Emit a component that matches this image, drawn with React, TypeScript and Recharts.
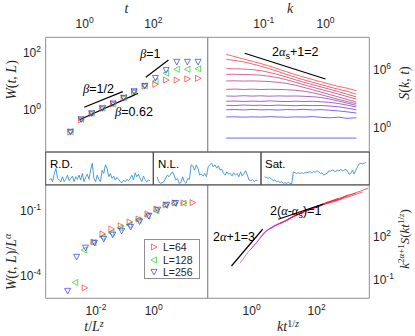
import React from 'react';
import {
  ScatterChart,
  Scatter,
  LineChart,
  Line,
  XAxis,
  YAxis,
  ReferenceLine,
  ReferenceArea,
  Legend,
} from 'recharts';

const W = 415;
const H = 336;
const SANS = '"Liberation Sans", Arial, Helvetica, sans-serif';
const SERIF = '"Liberation Serif", "Times New Roman", serif';
const INK = '#262626';
const FRAME = '#8f8f8f';
const STRIP_FRAME = '#4d4d4d';
const RED = '#ff2a2a';
const GREEN = '#1ec81e';
const BLUE = '#2a2aff';

// ---------- top left: W(t,L) vs t, all values as log10
const logT = [-0.41, -0.1, 0.21, 0.52, 0.83, 1.14, 1.44, 1.75, 2.06, 2.37, 2.68, 2.99, 3.3];
const logW64 = [-0.83, -0.4, -0.18, 0.0, 0.16, 0.37, 0.59, 0.79, 0.85, 1.0, 1.0, 1.04, 1.06];
const logW128 = [-0.82, -0.39, -0.17, 0.01, 0.16, 0.38, 0.59, 0.8, 0.96, 1.24, 1.38, 1.38, 1.4];
const logW256 = [-0.83, -0.39, -0.18, 0.0, 0.17, 0.37, 0.6, 0.79, 1.07, 1.35, 1.64, 1.64, 1.64];
const tlTicksX = [0, 2];
const tlTicksY = [0, 2];
// guide lines [x0, y0, x1, y1]
const betaHalf = [-0.01, 0.04, 1.11, 0.59];
const beta062 = [-0.13, -0.39, 1.55, 0.53];
const betaOne = [1.78, 1.1, 2.44, 1.71];

// ---------- top right: S(k,t) vs k, one curve per time
const logK = [-1.61, -1.47, -1.33, -1.19, -1.05, -0.91, -0.77, -0.63, -0.49, -0.35, -0.21, -0.07, 0.07, 0.21, 0.35, 0.5];
const sk01 = [7.45, 7.21, 6.97, 6.73, 6.49, 6.23, 5.94, 5.64, 5.35, 5.08, 4.83, 4.59, 4.35, 4.12, 3.93, 3.67];
const sk02 = [6.93, 6.81, 6.67, 6.46, 6.22, 5.96, 5.67, 5.36, 5.07, 4.8, 4.55, 4.3, 4.05, 3.82, 3.61, 3.31];
const sk03 = [5.96, 5.95, 5.92, 5.86, 5.75, 5.57, 5.34, 5.08, 4.81, 4.55, 4.3, 4.06, 3.82, 3.58, 3.3, 3.03];
const sk04 = [5.37, 5.38, 5.35, 5.33, 5.28, 5.18, 5.02, 4.8, 4.55, 4.29, 4.04, 3.8, 3.56, 3.32, 3.06, 2.8];
const sk05 = [4.68, 4.7, 4.67, 4.69, 4.66, 4.62, 4.55, 4.43, 4.24, 4.01, 3.77, 3.52, 3.27, 3.02, 2.76, 2.5];
const sk06 = [3.81, 3.84, 3.8, 3.83, 3.79, 3.82, 3.8, 3.77, 3.72, 3.62, 3.46, 3.25, 3.01, 2.77, 2.55, 2.32];
const sk07 = [3.12, 3.1, 3.15, 3.11, 3.14, 3.1, 3.13, 3.11, 3.12, 3.09, 3.05, 2.96, 2.8, 2.6, 2.38, 2.15];
const sk08 = [2.57, 2.6, 2.55, 2.59, 2.56, 2.61, 2.57, 2.54, 2.58, 2.55, 2.57, 2.52, 2.46, 2.34, 2.17, 1.98];
const sk09 = [2.15, 2.13, 2.18, 2.14, 2.16, 2.12, 2.17, 2.14, 2.11, 2.15, 2.12, 2.13, 2.08, 2.0, 1.86, 1.69];
const sk10 = [1.69, 1.71, 1.67, 1.72, 1.68, 1.7, 1.66, 1.71, 1.69, 1.73, 1.67, 1.7, 1.64, 1.57, 1.47, 1.35];
const sk11 = [0.94, 0.96, 0.92, 0.95, 0.93, 0.97, 0.94, 0.91, 0.95, 0.93, 0.98, 0.9, 0.85, 0.92, 0.8, 0.86];
const sk12 = [-1.25, -1.25, -1.25, -1.25, -1.25, -1.25, -1.25, -1.25, -1.25, -1.25, -1.25, -1.25, -1.25, -1.25, -1.25, -1.25];
const trCurves = [sk01, sk02, sk03, sk04, sk05, sk06, sk07, sk08, sk09, sk10, sk11, sk12];
const trColors = ['#ff0000', '#e80017', '#d1002e', '#ba0046', '#a3005d', '#8b0074', '#74008b', '#5d00a3', '#4600ba', '#2e00d1', '#1700e8', '#0000ff'];
const trTicksX = [-1, 0];
const trTicksY = [0, 6];
const slopeS = [-1.31, 7.56, 0.0, 4.89];

// ---------- middle strip: interface profiles (height in strip units 0..10)
const rdProfile = [1.5, 2.0, 1.0, 3.5, 5.0, 2.0, 1.5, 1.0, 2.5, 1.0, 1.7, 3.0, 1.3, 2.0, 2.7, 1.0, 2.5, 1.7, 3.0, 1.5, 3.5, 1.0, 2.3, 3.3, 1.7, 4.5, 6.6, 2.0, 1.0, 3.0, 1.7, 1.0, 4.5, 3.5, 6.1, 5.0, 2.5, 3.5, 2.0, 2.7, 1.5, 2.3, 1.7, 1.0, 0.7, 1.5, 1.0, 1.7, 1.3, 2.0, 3.0, 1.5, 3.7, 2.5, 3.3, 2.0, 1.0, 2.7, 1.7, 1.0, 1.5, 1.3];
const nlProfile = [2.5, 1.0, 0.5, 0.7, 1.0, 2.0, 3.0, 2.5, 3.3, 4.0, 3.0, 1.5, 2.0, 0.5, 0.7, 2.5, 1.0, 0.5, 2.0, 1.7, 6.1, 5.8, 4.5, 6.1, 5.1, 3.0, 3.3, 2.7, 3.5, 2.5, 5.5, 6.1, 6.6, 5.5, 6.1, 5.1, 5.8, 4.5, 4.8, 3.5, 3.0, 4.0, 3.3, 3.5, 2.7, 3.7, 3.0, 3.5, 2.5, 4.0, 2.7, 3.5, 4.3, 3.0, 1.5, 1.3, 1.7, 1.0, 1.5, 1.3];
const satProfile = [2.5, 2.3, 2.0, 2.3, 1.7, 1.3, 1.5, 1.0, 1.2, 0.8, 1.0, 0.5, 0.7, 0.5, 0.8, 0.5, 0.3, 4.0, 3.7, 3.5, 3.7, 3.5, 3.7, 3.5, 3.8, 3.7, 3.9, 4.0, 3.7, 4.1, 3.9, 4.3, 4.0, 3.5, 3.7, 3.0, 3.3, 3.5, 4.3, 4.2, 4.5, 4.3, 4.1, 4.5, 4.3, 4.7, 4.3, 4.5, 4.7, 4.3, 3.3, 3.5, 4.5, 3.3, 4.5, 5.5, 6.4, 6.6, 6.4, 6.6, 6.8];
const stripLabels = ['R.D.', 'N.L.', 'Sat.'];

// ---------- bottom left: W/L^alpha vs t/L^z (log10)
const blX64 = [-2.39, -2.08, -1.77, -1.46, -1.14, -0.83, -0.52, -0.21, 0.1, 0.42, 0.73, 1.04, 1.35];
const blY64 = [-4.63, -2.51, -2.14, -1.91, -1.77, -1.59, -1.45, -1.22, -0.99, -0.8, -0.71, -0.71, -0.7];
const blX128 = [-2.72, -2.41, -2.09, -1.78, -1.47, -1.16, -0.85, -0.53, -0.22, 0.09, 0.4, 0.71, 1.03];
const blY128 = [-4.38, -2.88, -2.55, -2.28, -2.09, -1.86, -1.72, -1.49, -1.31, -1.08, -0.82, -0.73, -0.72];
const blX256 = [-2.98, -2.67, -2.36, -2.05, -1.73, -1.42, -1.11, -0.8, -0.49, -0.17, 0.14, 0.45, 0.76];
const blY256 = [-4.77, -3.2, -2.78, -2.55, -2.37, -2.18, -2.0, -1.82, -1.57, -1.31, -1.03, -0.8, -0.72];
const legendLabels = ['L=64', 'L=128', 'L=256'];
const blTicksX = [-2, 0];
const blTicksY = [-4, -1];

// ---------- bottom right: k^{2a+1} S vs k t^{1/z} (log10)
const bx1 = [-0.36, -0.1, 0.15, 0.4, 0.65, 0.9, 1.15, 1.4, 1.6, 1.75];
const by1 = [0.03, 0.85, 1.45, 2.22, 2.52, 2.86, 3.1, 3.45, 3.58, 3.8];
const bx2 = [-0.05, 0.2, 0.45, 0.7, 0.95, 1.2, 1.45, 1.7, 1.9, 2.06];
const by2 = [0.94, 1.62, 2.3, 2.64, 2.86, 3.2, 3.44, 3.74, 3.85, 4.05];
const bx3 = [0.25, 0.5, 0.75, 1.0, 1.25, 1.5, 1.75, 2.0, 2.2, 2.36];
const by3 = [1.8, 2.36, 2.7, 2.92, 3.27, 3.5, 3.77, 3.95, 4.16, 4.3];
const bx4 = [0.55, 0.8, 1.05, 1.3, 1.55, 1.8, 2.05, 2.3, 2.5, 2.66];
const by4 = [2.45, 2.75, 2.98, 3.31, 3.55, 3.82, 4.0, 4.25, 4.4, 4.55];
const bx5 = [0.85, 1.1, 1.35, 1.6, 1.85, 2.1, 2.35, 2.6, 2.8, 2.96];
const by5 = [2.8, 3.04, 3.38, 3.6, 3.86, 4.02, 4.28, 4.48, 4.62, 4.78];
const bx6 = [1.1, 1.35, 1.6, 1.85, 2.1, 2.35, 2.6, 2.85, 3.05, 3.21];
const by6 = [3.08, 3.33, 3.63, 3.8, 4.06, 4.25, 4.4, 4.66, 4.8, 4.9];
const bx7 = [1.3, 1.55, 1.8, 2.05, 2.3, 2.55, 2.8, 3.05, 3.25, 3.41];
const by7 = [3.3, 3.54, 3.78, 3.96, 4.18, 4.32, 4.52, 4.7, 4.86, 4.98];
const bx8 = [1.48, 1.73, 1.98, 2.23, 2.48, 2.73, 2.98, 3.23, 3.43, 3.59];
const by8 = [3.52, 3.7, 3.97, 4.14, 4.36, 4.5, 4.75, 4.95, 5.12, 5.26];
const brXs = [bx1, bx2, bx3, bx4, bx5, bx6, bx7, bx8];
const brYs = [by1, by2, by3, by4, by5, by6, by7, by8];
const brColors = ['#c030c0', '#cc2aa8', '#d82490', '#e21e78', '#ea1860', '#f21248', '#f80a28', '#ff0000'];
const brTicksX = [0, 2];
const brTicksY = [-1, 2];
const slopeThree = [-0.62, -0.15, 0.34, 2.4];
const slopeOne = [0.82, 3.09, 2.2, 4.15];

// ---------- panel boxes (page px)
const TL = { left: 45.7, right: 207.7, top: 37.3, bottom: 152 };
const TR = { left: 207.7, right: 369.3, top: 37.3, bottom: 152 };
const RD = { left: 45.7, right: 153.3, top: 152, bottom: 185 };
const NL = { left: 153.3, right: 261, top: 152, bottom: 185 };
const SAT = { left: 261, right: 369.3, top: 152, bottom: 185 };
const BL = { left: 45.7, right: 207.7, top: 184.7, bottom: 298.3 };
const BR = { left: 207.7, right: 369.3, top: 184.7, bottom: 298.3 };

const AX_H = 24; // x axis band
const AX_W = 36; // y axis band

// a = space taken by axes on each side
const marginOf = (b: any, a: any = {}) => ({
  top: b.top - (a.top || 0),
  left: b.left - (a.left || 0),
  right: W - b.right - (a.right || 0),
  bottom: H - b.bottom - (a.bottom || 0),
});
const pts = (xs: number[], ys: number[]) => xs.map((x, i) => ({ x, y: ys[i] }));
const seg = (s: number[]) => [{ x: s[0], y: s[1] }, { x: s[2], y: s[3] }];

const powLabel = (key: any, x: number, y: number, exp: number, anchor: string) => (
  <text key={key} x={x} y={y} textAnchor={anchor} fontFamily={SANS} fontSize={12} fill={INK}>
    10<tspan dy={-5} fontSize={8.5}>{String(exp)}</tspan>
  </text>
);
const topTick = (p: any) => powLabel(p.index, p.x, 28, p.payload.value, 'middle');
const bottomTick = (p: any) => powLabel(p.index, p.x, 315, p.payload.value, 'middle');
const leftTick = (p: any) => powLabel(p.index, 41, p.y + 5.5, p.payload.value, 'end');
const rightTick = (p: any) => powLabel(p.index, 373, p.y + 5.5, p.payload.value, 'start');

const triRight = (color: string) => (p: any) => (
  <polygon points={`${p.cx - 2.6},${p.cy - 3} ${p.cx - 2.6},${p.cy + 3} ${p.cx + 3},${p.cy}`} fill="none" stroke={color} strokeOpacity={0.85} strokeWidth={0.8} />
);
const triLeft = (color: string) => (p: any) => (
  <polygon points={`${p.cx + 2.6},${p.cy - 3} ${p.cx + 2.6},${p.cy + 3} ${p.cx - 3},${p.cy}`} fill="none" stroke={color} strokeOpacity={0.85} strokeWidth={0.8} />
);
const triDown = (color: string) => (p: any) => (
  <polygon points={`${p.cx - 3},${p.cy - 2.6} ${p.cx + 3},${p.cy - 2.6} ${p.cx},${p.cy + 3}`} fill="none" stroke={color} strokeOpacity={0.85} strokeWidth={0.8} />
);
const markerShapes = [triRight(RED), triLeft(GREEN), triDown(BLUE)];

const Frame = ({ xd, yd, color }: any) => (
  <ReferenceArea x1={xd[0]} x2={xd[1]} y1={yd[0]} y2={yd[1]} fill="none" fillOpacity={0} stroke={color} strokeWidth={1} ifOverflow="visible" />
);

const abs: React.CSSProperties = { position: 'absolute', left: 0, top: 0 };

function TopLeft() {
  const xd = [-1.13, 3.58];
  const yd = [-1.54, 2.51];
  return (
    <ScatterChart width={W} height={H} margin={marginOf(TL, { top: AX_H, left: AX_W })}>
      <XAxis type="number" dataKey="x" orientation="top" domain={xd} ticks={tlTicksX} interval={0} height={AX_H} axisLine={false} tickLine={false} allowDataOverflow tick={topTick} />
      <YAxis type="number" dataKey="y" domain={yd} ticks={tlTicksY} interval={0} width={AX_W} axisLine={false} tickLine={false} allowDataOverflow tick={leftTick} />
      <Frame xd={xd} yd={yd} color={FRAME} />
      <ReferenceLine segment={seg(betaHalf)} stroke="#000" strokeWidth={1.2} />
      <ReferenceLine segment={seg(beta062)} stroke="#000" strokeWidth={1.2} />
      <ReferenceLine segment={seg(betaOne)} stroke="#000" strokeWidth={1.2} />
      <Scatter data={pts(logT, logW64)} shape={markerShapes[0]} isAnimationActive={false} />
      <Scatter data={pts(logT, logW128)} shape={markerShapes[1]} isAnimationActive={false} />
      <Scatter data={pts(logT, logW256)} shape={markerShapes[2]} isAnimationActive={false} />
    </ScatterChart>
  );
}

function TopRight() {
  const xd = [-1.91, 0.71];
  const yd = [-2.7, 9.22];
  const data = logK.map((x, i) => {
    const row: any = { x };
    trCurves.forEach((c, j) => (row['s' + j] = c[i]));
    return row;
  });
  return (
    <LineChart width={W} height={H} margin={marginOf(TR, { top: AX_H, right: AX_W })} data={data}>
      <XAxis type="number" dataKey="x" orientation="top" domain={xd} ticks={trTicksX} interval={0} height={AX_H} axisLine={false} tickLine={false} allowDataOverflow tick={topTick} />
      <YAxis type="number" orientation="right" domain={yd} ticks={trTicksY} interval={0} width={AX_W} axisLine={false} tickLine={false} allowDataOverflow tick={rightTick} />
      <Frame xd={xd} yd={yd} color={FRAME} />
      {trCurves.map((_, j) => (
        <Line key={j} dataKey={'s' + j} stroke={trColors[j]} strokeOpacity={0.75} strokeWidth={0.8} dot={false} isAnimationActive={false} />
      ))}
      <ReferenceLine segment={seg(slopeS)} stroke="#000" strokeWidth={1.2} />
    </LineChart>
  );
}

function Strip({ box, profile }: any) {
  const data = profile.map((y: number, i: number) => ({ x: i, y }));
  const xd = [-2.2, profile.length + 1];
  const yd = [0, 10];
  return (
    <LineChart width={W} height={H} margin={marginOf(box)} data={data}>
      <XAxis type="number" dataKey="x" domain={xd} hide allowDataOverflow />
      <YAxis type="number" domain={yd} hide allowDataOverflow />
      <Frame xd={xd} yd={yd} color={STRIP_FRAME} />
      <Line dataKey="y" stroke="#3a93d4" strokeWidth={0.9} dot={false} isAnimationActive={false} />
    </LineChart>
  );
}

function LegendBox() {
  return (
    <div style={{ position: 'relative', width: 56, height: 40, boxSizing: 'border-box', border: `1px solid ${FRAME}`, background: '#fff', fontFamily: SANS, fontSize: 10.5, color: INK }}>
      {legendLabels.map((lab, i) => (
        <div key={lab} style={{ position: 'absolute', left: 3, top: 1 + i * 12.5, height: 12, lineHeight: '12px', display: 'flex', alignItems: 'center' }}>
          <svg width={12} height={12}>{markerShapes[i]({ cx: 6, cy: 6 })}</svg>
          <span style={{ marginLeft: 3 }}>{lab}</span>
        </div>
      ))}
    </div>
  );
}

function BottomLeft() {
  const xd = [-3.74, 1.87];
  const yd = [-5.11, 0.13];
  return (
    <ScatterChart width={W} height={H} margin={marginOf(BL, { bottom: AX_H, left: AX_W })}>
      <XAxis type="number" dataKey="x" domain={xd} ticks={blTicksX} interval={0} height={AX_H} axisLine={false} tickLine={false} allowDataOverflow tick={bottomTick} />
      <YAxis type="number" dataKey="y" domain={yd} ticks={blTicksY} interval={0} width={AX_W} axisLine={false} tickLine={false} allowDataOverflow tick={leftTick} />
      <Frame xd={xd} yd={yd} color={FRAME} />
      <Scatter data={pts(blX64, blY64)} shape={markerShapes[0]} isAnimationActive={false} />
      <Scatter data={pts(blX128, blY128)} shape={markerShapes[1]} isAnimationActive={false} />
      <Scatter data={pts(blX256, blY256)} shape={markerShapes[2]} isAnimationActive={false} />
      <Legend layout="vertical" align="center" verticalAlign="middle" content={<LegendBox />} wrapperStyle={{ position: 'absolute', left: 144, top: 239.3, width: 56, height: 40 }} />
    </ScatterChart>
  );
}

function BottomRight() {
  const xd = [-1.35, 3.62];
  const yd = [-2.39, 5.49];
  return (
    <LineChart width={W} height={H} margin={marginOf(BR, { bottom: AX_H, right: AX_W })}>
      <XAxis type="number" dataKey="x" domain={xd} ticks={brTicksX} interval={0} height={AX_H} axisLine={false} tickLine={false} allowDataOverflow tick={bottomTick} />
      <YAxis type="number" orientation="right" domain={yd} ticks={brTicksY} interval={0} width={AX_W} axisLine={false} tickLine={false} allowDataOverflow tick={rightTick} />
      <Frame xd={xd} yd={yd} color={FRAME} />
      {brXs.map((xs, j) => (
        <Line key={j} data={pts(xs, brYs[j])} dataKey="y" stroke={brColors[j]} strokeOpacity={0.8} strokeWidth={0.8} dot={false} isAnimationActive={false} />
      ))}
      <ReferenceLine segment={seg(slopeThree)} stroke="#000" strokeWidth={1.2} />
      <ReferenceLine segment={seg(slopeOne)} stroke="#000" strokeWidth={1.2} />
    </LineChart>
  );
}

const it = { fontStyle: 'italic' as const };

export default function App() {
  return (
    <div style={{ position: 'absolute', left: 0, top: 0, width: W, height: H, background: '#fff', overflow: 'hidden' }}>
      <div style={abs}><TopLeft /></div>
      <div style={abs}><TopRight /></div>
      <div style={abs}><BottomLeft /></div>
      <div style={abs}><BottomRight /></div>
      <div style={abs}><Strip box={RD} profile={rdProfile} /></div>
      <div style={abs}><Strip box={NL} profile={nlProfile} /></div>
      <div style={abs}><Strip box={SAT} profile={satProfile} /></div>
      <svg width={W} height={H} style={{ ...abs, pointerEvents: 'none' }}>
        <g fontFamily={SERIF} fill={INK} fontSize={14}>
          <text x={126.5} y={13} textAnchor="middle" style={it}>t</text>
          <text x={290} y={13} textAnchor="middle" style={it}>k</text>
          <text transform="translate(16,80) rotate(-90)" textAnchor="middle">
            <tspan style={it}>W</tspan>(<tspan style={it}>t</tspan>, <tspan style={it}>L</tspan>)
          </text>
          <text transform="translate(16,262) rotate(-90)" textAnchor="middle">
            <tspan style={it}>W</tspan>(<tspan style={it}>t</tspan>, <tspan style={it}>L</tspan>)/<tspan style={it}>L</tspan>
            <tspan style={it} dy={-5} fontSize={10}>α</tspan>
          </text>
          <text x={94} y={331} textAnchor="middle">
            <tspan style={it}>t</tspan>/<tspan style={it}>L</tspan><tspan style={it} dy={-4} fontSize={10}>z</tspan>
          </text>
          <text x={288} y={331} textAnchor="middle">
            <tspan style={it}>kt</tspan><tspan dy={-4} fontSize={10}>1/</tspan><tspan style={it} fontSize={10}>z</tspan>
          </text>
          <text transform="translate(409,83) rotate(-90)" textAnchor="middle">
            <tspan style={it}>S</tspan>(<tspan style={it}>k</tspan>, <tspan style={it}>t</tspan>)
          </text>
          <text transform="translate(409,239) rotate(-90)" textAnchor="middle" fontSize={13}>
            <tspan style={it}>k</tspan><tspan dy={-5} fontSize={9}>2</tspan><tspan style={it} fontSize={9}>α</tspan><tspan fontSize={9}>+1</tspan>
            <tspan dy={5} style={it}>S</tspan>(<tspan style={it}>kt</tspan><tspan dy={-5} fontSize={9}>1/</tspan><tspan style={it} fontSize={9}>z</tspan><tspan dy={5}>)</tspan>
          </text>
        </g>
        <g fontFamily={SANS} fill="#000" fontSize={12.5}>
          <text x={83} y={93}><tspan fontFamily={SERIF} style={it}>β</tspan>=1/2</text>
          <text x={115} y={116}><tspan fontFamily={SERIF} style={it}>β</tspan>=0.62</text>
          <text x={140} y={58}><tspan fontFamily={SERIF} style={it}>β</tspan>=1</text>
          <text x={272} y={56}>2<tspan fontFamily={SERIF} style={it}>α</tspan><tspan dy={3} fontSize={9}>s</tspan><tspan dy={-3}>+1=2</tspan></text>
          <text x={213} y={241}>2<tspan fontFamily={SERIF} style={it}>α</tspan>+1=3</text>
          <text x={270} y={214.5}>2(<tspan fontFamily={SERIF} style={it}>α</tspan>-<tspan fontFamily={SERIF} style={it}>α</tspan><tspan dy={3} fontSize={9}>s</tspan><tspan dy={-3}>)=1</tspan></text>
        </g>
        <g fontFamily={SANS} fill="#000" fontSize={11.5}>
          <text x={50} y={168}>{stripLabels[0]}</text>
          <text x={158} y={168}>{stripLabels[1]}</text>
          <text x={265} y={168}>{stripLabels[2]}</text>
        </g>
      </svg>
    </div>
  );
}
